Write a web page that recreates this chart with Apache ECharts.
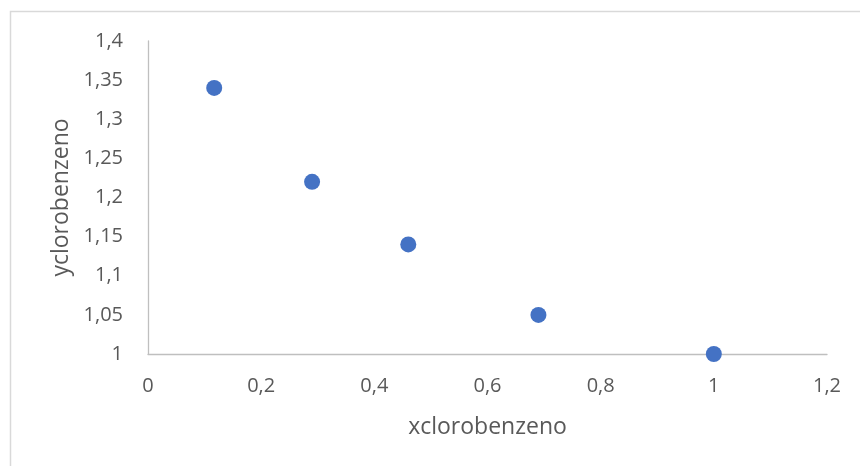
<!DOCTYPE html>
<html>
<head>
<meta charset="utf-8">
<script src="https://cdn.jsdelivr.net/npm/echarts@6/dist/echarts.min.js"></script>
<style>html,body{margin:0;padding:0;background:#fff}#c{width:860px;height:466px}</style>
</head>
<body>
<div id="c"></div>
<script>
var xValues = [0.117, 0.29, 0.46, 0.69, 1.0];
var yValues = [1.34, 1.22, 1.14, 1.05, 1.0];
var xAxisTitle = 'xclorobenzeno';
var yAxisTitle = 'yclorobenzeno';

var points = xValues.map(function (x, i) { return [x, yValues[i]]; });
var fmt = function (v) { return String(Math.round(v * 100) / 100).replace('.', ','); };
var font = '"Open Sans", "Noto Sans", sans-serif';

var chart = echarts.init(document.getElementById('c'), null, { renderer: 'canvas' });
chart.setOption({
  animation: false,
  backgroundColor: '#fff',
  graphic: [{
    type: 'rect', left: 8, top: 9, silent: true,
    shape: { width: 900, height: 500 },
    style: { fill: 'none', stroke: '#D9D9D9', lineWidth: 1.5 }
  }],
  grid: { left: 148, right: 33, top: 41, bottom: 112 },
  xAxis: {
    type: 'value', min: 0, max: 1.2, interval: 0.2,
    name: xAxisTitle, nameLocation: 'middle', nameGap: 62,
    nameTextStyle: { color: '#595959', fontSize: 23, fontFamily: font },
    axisLine: { show: true, lineStyle: { color: '#BFBFBF', width: 1.3 } },
    axisTick: { show: false },
    splitLine: { show: false },
    axisLabel: { color: '#595959', fontSize: 20, fontFamily: font, margin: 22, formatter: fmt }
  },
  yAxis: {
    type: 'value', min: 1, max: 1.4, interval: 0.05,
    name: yAxisTitle, nameLocation: 'middle', nameGap: 75, nameRotate: 90,
    nameTextStyle: { color: '#595959', fontSize: 23, fontFamily: font },
    axisLine: { show: true, onZero: false, lineStyle: { color: '#BFBFBF', width: 1.3 } },
    axisTick: { show: false },
    splitLine: { show: false },
    axisLabel: { color: '#595959', fontSize: 20, fontFamily: font, margin: 25, formatter: fmt }
  },
  series: [{
    type: 'scatter', data: points, symbol: 'circle', symbolSize: 16,
    itemStyle: { color: '#4472C4', opacity: 1 }
  }]
});
</script>
</body>
</html>
